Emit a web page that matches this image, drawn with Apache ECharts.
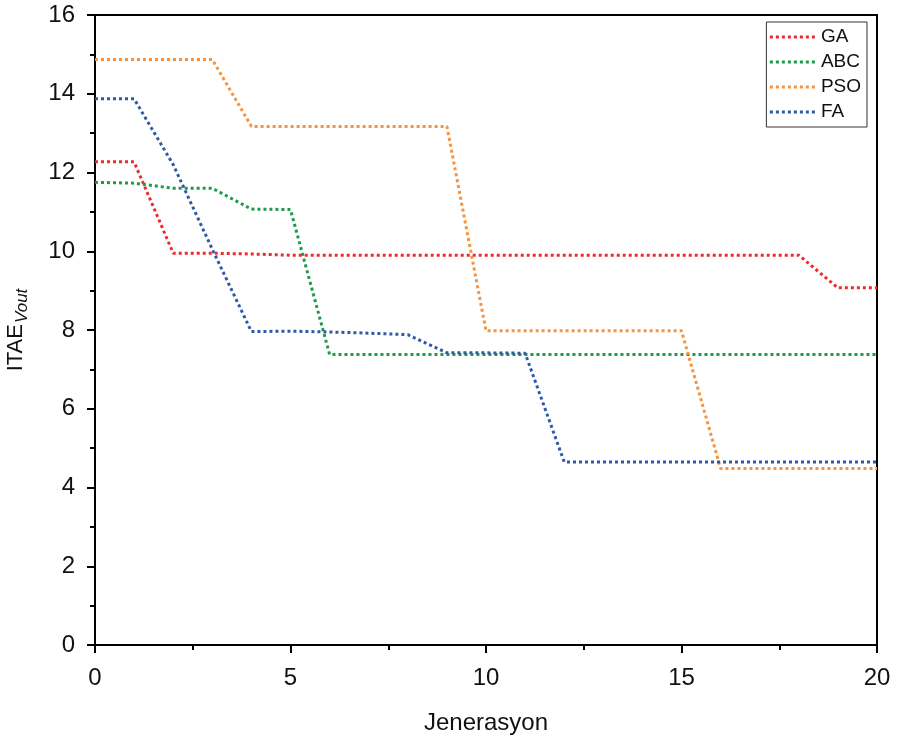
<!DOCTYPE html>
<html>
<head>
<meta charset="utf-8">
<script src="https://cdn.jsdelivr.net/npm/echarts@6/dist/echarts.min.js"></script>
<style>html,body{margin:0;padding:0;background:#fff}#c{width:898px;height:742px}</style>
</head>
<body>
<div id="c"></div>
<script>
var generations = [0,1,2,3,4,5,6,7,8,9,10,11,12,13,14,15,16,17,18,19,20];
var seriesNames = ['GA','ABC','PSO','FA'];
var gaValues  = [12.27,12.27,9.95,9.95,9.93,9.9,9.9,9.9,9.9,9.9,9.9,9.9,9.9,9.9,9.9,9.9,9.9,9.9,9.9,9.07,9.07];
var abcValues = [11.75,11.73,11.6,11.6,11.07,11.06,7.38,7.38,7.38,7.38,7.38,7.38,7.38,7.38,7.38,7.38,7.38,7.38,7.38,7.38,7.38];
var psoValues = [14.87,14.87,14.87,14.87,13.17,13.17,13.17,13.17,13.17,13.17,7.98,7.98,7.98,7.98,7.98,7.98,4.48,4.48,4.48,4.48,4.48];
var faValues  = [13.87,13.87,12.2,10.05,7.96,7.97,7.95,7.92,7.88,7.42,7.42,7.41,4.65,4.65,4.65,4.65,4.65,4.65,4.65,4.65,4.65];
var xTicks = [0,5,10,15,20];
var yTicks = [0,2,4,6,8,10,12,14,16];
var colors = ['#ee2a2e','#1d9a4a','#f7923f','#2e59a8'];

function pairs(vals){ return generations.map(function(g,i){ return [g, vals[i]]; }); }
var allValues = [gaValues, abcValues, psoValues, faValues];

var chart = echarts.init(document.getElementById('c'));
var font = 'Liberation Sans, Arial, sans-serif';
chart.setOption({
  animation: false,
  backgroundColor: '#fff',
  grid: { left: 95, right: 21, top: 15, bottom: 97, containLabel: false, outerBoundsMode: 'none', show: true, borderColor: '#000', borderWidth: 2, backgroundColor: 'transparent' },
  legend: {
    show: true,
    orient: 'vertical',
    right: 31, top: 22,
    data: seriesNames,
    borderColor: '#333', borderWidth: 1,
    padding: [5, 6, 5, 2],
    itemWidth: 46, itemHeight: 14, itemGap: 5,
    itemStyle: { opacity: 0 },
    lineStyle: { width: 3, type: [3, 3], cap: 'butt' },
    textStyle: { fontFamily: font, fontSize: 19, lineHeight: 20, color: '#111' }
  },
  xAxis: {
    type: 'value', min: xTicks[0], max: xTicks[xTicks.length-1], interval: 5,
    name: 'Jenerasyon', nameLocation: 'middle', nameGap: 66,
    nameTextStyle: { fontFamily: font, fontSize: 24, color: '#111' },
    axisLine: { show: true, onZero: false, lineStyle: { color: '#000', width: 2 } },
    axisTick: { show: true, inside: false, length: 8, lineStyle: { color: '#000', width: 2 } },
    minorTick: { show: true, splitNumber: 2, length: 5, lineStyle: { color: '#000', width: 2 } },
    axisLabel: { fontFamily: font, fontSize: 24, color: '#111', margin: 21 },
    splitLine: { show: false }
  },
  yAxis: {
    type: 'value', min: yTicks[0], max: yTicks[yTicks.length-1], interval: 2,
    name: '{a|ITAE}{b|Vout}', nameLocation: 'middle', nameGap: 64, nameRotate: 90,
    nameTextStyle: {
      fontFamily: font, color: '#111',
      rich: {
        a: { fontFamily: font, fontSize: 22, color: '#111', lineHeight: 30, verticalAlign: 'middle' },
        b: { fontFamily: font, fontSize: 17, fontStyle: 'italic', color: '#111', lineHeight: 30, verticalAlign: 'bottom', padding: [0,0,0,1] }
      }
    },
    axisLine: { show: true, onZero: false, lineStyle: { color: '#000', width: 2 } },
    axisTick: { show: true, inside: false, length: 8, lineStyle: { color: '#000', width: 2 } },
    minorTick: { show: true, splitNumber: 2, length: 5, lineStyle: { color: '#000', width: 2 } },
    axisLabel: { fontFamily: font, fontSize: 24, color: '#111', margin: 20 },
    splitLine: { show: false }
  },
  series: seriesNames.map(function(n, i){
    return {
      name: n, type: 'line', data: pairs(allValues[i]),
      showSymbol: false, symbol: 'none',
      color: colors[i],
      lineStyle: { color: colors[i], width: 3, type: [3, 3], cap: 'butt' },
      itemStyle: { color: colors[i] },
      z: 3 + i
    };
  })
});
</script>
</body>
</html>
